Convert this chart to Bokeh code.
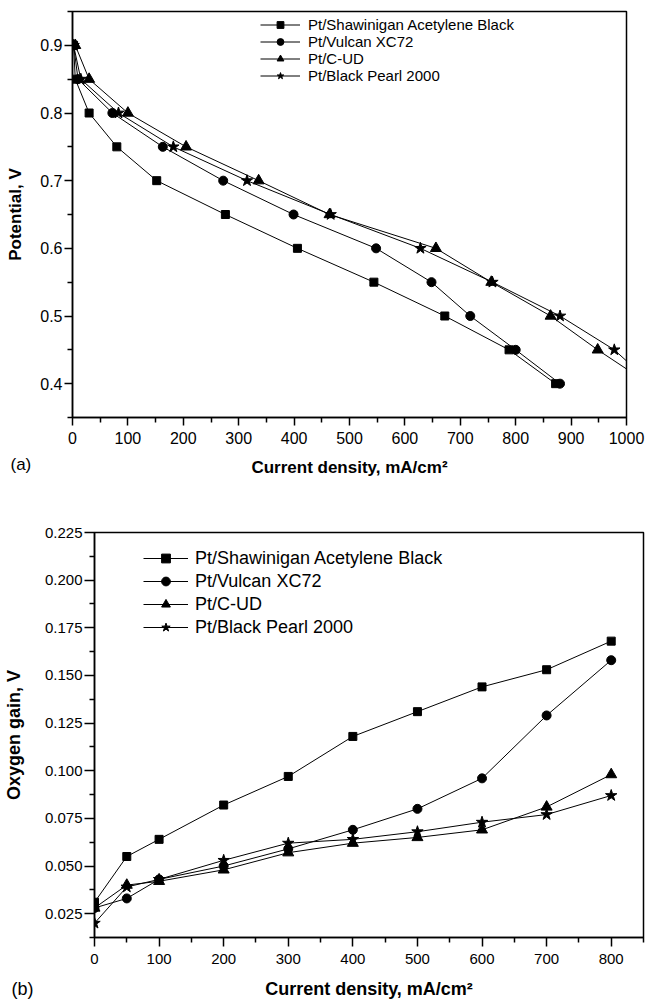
from bokeh.plotting import figure
from bokeh.models import (FixedTicker, PrintfTickFormatter, Legend, LegendItem,
                          Label, Range1d)
from bokeh.embed import file_html
from bokeh.resources import INLINE

FONT = "Liberation Sans"

series_names = ["Pt/Shawinigan Acetylene Black", "Pt/Vulcan XC72",
                "Pt/C-UD", "Pt/Black Pearl 2000"]
markers = ["square", "circle", "triangle", "star"]
marker_sizes = [8, 9, 11, 12]

# ---------------- panel (a): polarization curves ----------------
a_potential = [0.90, 0.85, 0.80, 0.75, 0.70, 0.65, 0.60, 0.55, 0.50, 0.45, 0.40]
a_shaw_current = [2, 5, 30, 80, 152, 276, 406, 544, 672, 788, 872]
a_vulcan_current = [2, 10, 72, 163, 272, 399, 548, 648, 718, 800, 880]
a_cud_current = [5, 30, 100, 205, 336, 464, 656, 756, 863, 948, 1040]
a_bp_current = [2, 15, 83, 182, 315, 466, 628, 758, 880, 978, 1045]

a_xticks = [0, 100, 200, 300, 400, 500, 600, 700, 800, 900, 1000]
a_xminor = [50, 150, 250, 350, 450, 550, 650, 750, 850, 950]
a_yticks = [0.4, 0.5, 0.6, 0.7, 0.8, 0.9]
a_yminor = [0.35, 0.45, 0.55, 0.65, 0.75, 0.85, 0.95]

# ---------------- panel (b): oxygen gain ----------------
b_current = [0, 50, 100, 200, 300, 400, 500, 600, 700, 800]
b_shaw_gain = [0.031, 0.055, 0.064, 0.082, 0.097, 0.118, 0.131, 0.144, 0.153, 0.168]
b_vulcan_gain = [0.028, 0.033, 0.043, 0.050, 0.059, 0.069, 0.080, 0.096, 0.129, 0.158]
b_cud_gain = [0.028, 0.040, 0.042, 0.048, 0.057, 0.062, 0.065, 0.069, 0.081, 0.098]
b_bp_gain = [0.020, 0.039, 0.043, 0.053, 0.062, 0.064, 0.068, 0.073, 0.077, 0.087]

b_xticks = [0, 100, 200, 300, 400, 500, 600, 700, 800]
b_xminor = [50, 150, 250, 350, 450, 550, 650, 750, 850]
b_yticks = [0.025, 0.050, 0.075, 0.100, 0.125, 0.150, 0.175, 0.200, 0.225]
b_yminor = [0.0125, 0.0375, 0.0625, 0.0875, 0.1125, 0.1375, 0.1625, 0.1875, 0.2125]


def style_axes(p, tick_font, label_font, major_len_x, major_len_y,
               xlab_standoff, xaxis_label_standoff, ylab_standoff, yaxis_label_standoff):
    p.xgrid.visible = False
    p.ygrid.visible = False
    p.outline_line_color = "black"
    p.outline_line_width = 1.5
    p.background_fill_color = "white"
    p.border_fill_color = "white"
    for ax in p.axis:
        ax.axis_line_width = 1.5
        ax.axis_line_color = "black"
        ax.major_tick_in = 0
        ax.minor_tick_in = 0
        ax.minor_tick_out = 5
        ax.major_tick_line_width = 1.5
        ax.minor_tick_line_width = 1.5
        ax.major_tick_line_color = "black"
        ax.minor_tick_line_color = "black"
        ax.major_label_text_font = FONT
        ax.major_label_text_font_size = tick_font
        ax.major_label_text_color = "black"
        ax.axis_label_text_font = FONT
        ax.axis_label_text_font_style = "bold"
        ax.axis_label_text_font_size = label_font
        ax.axis_label_text_color = "black"
    p.xaxis.major_tick_out = major_len_x
    p.yaxis.major_tick_out = major_len_y
    p.xaxis.major_label_standoff = xlab_standoff
    p.xaxis.axis_label_standoff = xaxis_label_standoff
    p.yaxis.major_label_standoff = ylab_standoff
    p.yaxis.axis_label_standoff = yaxis_label_standoff


def add_series(p, xs_list, ys_list):
    items = []
    for name, mk, ms, xs, ys in zip(series_names, markers, marker_sizes, xs_list, ys_list):
        lr = p.line(xs, ys, line_color="black", line_width=1)
        sr = p.scatter(xs, ys, marker=mk, size=ms, fill_color="black", line_color="black")
        items.append(LegendItem(label=name, renderers=[lr, sr]))
    return items


# ---------- figure (a) ----------
pa = figure(width=645, height=500, x_range=Range1d(0, 1000), y_range=Range1d(0.35, 0.95),
            output_backend="svg", toolbar_location=None,
            min_border_left=72, min_border_right=19, min_border_top=11, min_border_bottom=83,
            x_axis_label="Current density, mA/cm²", y_axis_label="Potential, V")
style_axes(pa, "16px", "17px", 8, 8, 6, 11, 2, 12)
pa.xaxis.ticker = FixedTicker(ticks=a_xticks, minor_ticks=a_xminor)
pa.yaxis.ticker = FixedTicker(ticks=a_yticks, minor_ticks=a_yminor)
pa.xaxis.formatter = PrintfTickFormatter(format="%d")
pa.yaxis.formatter = PrintfTickFormatter(format="%.1f")

items_a = add_series(pa, [a_shaw_current, a_vulcan_current, a_cud_current, a_bp_current],
                     [a_potential] * 4)
leg_a = Legend(items=items_a, location=(188, 333), padding=0, margin=0, spacing=0,
               border_line_alpha=0, background_fill_alpha=0,
               glyph_width=40, glyph_height=17, label_height=17, label_standoff=8,
               label_text_font=FONT, label_text_font_size="15px", label_text_color="black")
pa.add_layout(leg_a)
pa.add_layout(Label(x=-62, y=34, x_units="screen", y_units="screen", text="(a)",
                    text_font=FONT, text_font_size="17px", text_baseline="middle",
                    text_color="black"), "below")

# ---------- figure (b) ----------
pb = figure(width=645, height=502, x_range=Range1d(0, 850), y_range=Range1d(0.0125, 0.225),
            output_backend="svg", toolbar_location=None,
            min_border_left=91, min_border_right=2, min_border_top=32, min_border_bottom=65,
            x_axis_label="Current density, mA/cm²", y_axis_label="Oxygen gain, V")
style_axes(pb, "15px", "18px", 9, 10, 7, 12, 2, 18)
pb.xaxis.ticker = FixedTicker(ticks=b_xticks, minor_ticks=b_xminor)
pb.yaxis.ticker = FixedTicker(ticks=b_yticks, minor_ticks=b_yminor)
pb.xaxis.formatter = PrintfTickFormatter(format="%d")
pb.yaxis.formatter = PrintfTickFormatter(format="%.3f")

items_b = add_series(pb, [b_current] * 4,
                     [b_shaw_gain, b_vulcan_gain, b_cud_gain, b_bp_gain])
leg_b = Legend(items=items_b, location=(49, 299), padding=0, margin=0, spacing=1,
               border_line_alpha=0, background_fill_alpha=0,
               glyph_width=45, glyph_height=22, label_height=22, label_standoff=7,
               label_text_font=FONT, label_text_font_size="18px", label_text_color="black")
pb.add_layout(leg_b)
pb.add_layout(Label(x=-83, y=-456, x_units="screen", y_units="screen", text="(b)",
                    text_font=FONT, text_font_size="18px", text_baseline="middle",
                    text_color="black"), "above")

open("out.html", "w").write(file_html([pa, pb], INLINE))
